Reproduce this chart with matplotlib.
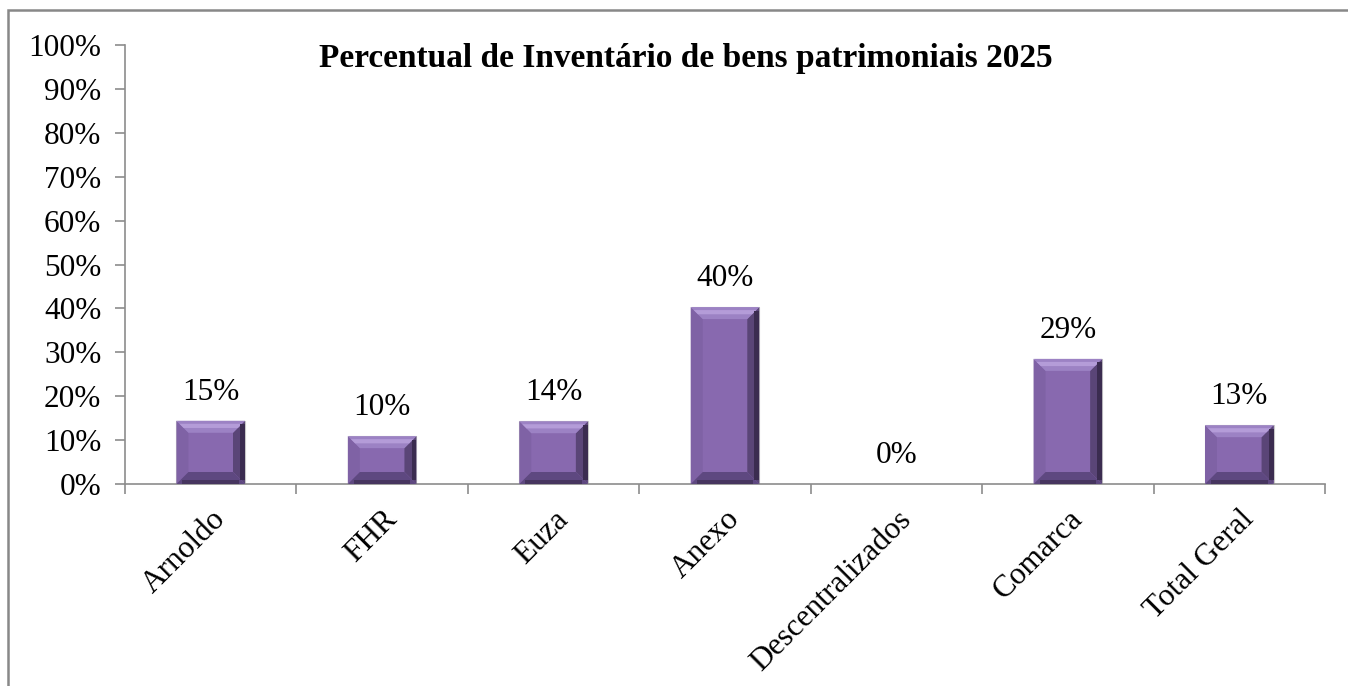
import numpy as np
import matplotlib
matplotlib.use("Agg")
import matplotlib.pyplot as plt
from matplotlib.patches import Polygon, Rectangle

# data
categories = ["Arnoldo", "FHR", "Euza", "Anexo", "Descentralizados", "Comarca", "Total Geral"]
values = [14.4, 10.9, 14.3, 40.3, 0.0, 28.5, 13.4]
value_labels = ["15%", "10%", "14%", "40%", "0%", "29%", "13%"]
yticks = [0, 10, 20, 30, 40, 50, 60, 70, 80, 90, 100]
title = "Percentual de Inventário de bens patrimoniais 2025"

plt.rcParams['font.family'] = ['Liberation Serif', 'DejaVu Serif']

W, H = 1348, 686
fig = plt.figure(figsize=(W / 100, H / 100), dpi=100)
ax = fig.add_axes([125 / W, 1 - 484 / H, 1200 / W, 439 / H])

grey = '#8c8c8c'
fs = 22.5
x = np.arange(len(categories))
bars = ax.bar(x, values, width=0.4, color='#8869AF', edgecolor='#c8c8c8', linewidth=0.8, zorder=2)

ax.set_xlim(-0.5, len(categories) - 0.5)
ax.set_ylim(0, 100)

# bevel look on each bar, ~12 px wide
inv = ax.transData.inverted()
p0 = ax.transData.transform((0, 0))
bx, by = inv.transform(p0 + np.array([12, 12])) - inv.transform(p0)
for rect in bars:
	x0, y0 = rect.get_x(), rect.get_y()
	w, h = rect.get_width(), rect.get_height()
	if h <= 0:
		continue
	b = min(by, h / 2)
	top = [(x0, y0 + h), (x0 + w, y0 + h), (x0 + w - bx, y0 + h - b), (x0 + bx, y0 + h - b)]
	left = [(x0, y0), (x0, y0 + h), (x0 + bx, y0 + h - b), (x0 + bx, y0 + b)]
	right = [(x0 + w, y0), (x0 + w, y0 + h), (x0 + w - bx, y0 + h - b), (x0 + w - bx, y0 + b)]
	bottom = [(x0, y0), (x0 + w, y0), (x0 + w - bx, y0 + b), (x0 + bx, y0 + b)]
	ax.add_patch(Polygon(left, closed=True, color='#7f62a5', lw=0, zorder=3))
	ax.add_patch(Polygon(right, closed=True, color='#5a4577', lw=0, zorder=3))
	ax.add_patch(Polygon(bottom, closed=True, color='#5e4880', lw=0, zorder=3))
	ax.add_patch(Polygon(top, closed=True, color='#9c82c4', lw=0, zorder=3))
	# shading: highlight band in the top bevel, darker edges on the right and bottom
	band = [(x0 + bx * 0.25, y0 + h - b * 0.25), (x0 + w - bx * 0.25, y0 + h - b * 0.25),
		(x0 + w - bx * 0.6, y0 + h - b * 0.6), (x0 + bx * 0.6, y0 + h - b * 0.6)]
	ax.add_patch(Polygon(band, closed=True, color='#b49cd8', lw=0, zorder=3))
	ax.add_patch(Rectangle((x0 + w - bx * 0.4, y0 + b * 0.3), bx * 0.4, h - b * 0.6, color='#3b2c50', lw=0, zorder=3))
	ax.add_patch(Rectangle((x0 + bx * 0.5, y0), w - bx, b * 0.35, color='#46355f', lw=0, zorder=3))

for xi, v, lab in zip(x, values, value_labels):
	ax.annotate(lab, (xi, v), xytext=(0, 10), textcoords='offset points',
		ha='center', va='bottom', fontsize=fs, color='black')

ax.set_yticks(yticks)
ax.set_yticklabels([str(t) + "%" for t in yticks], fontsize=fs)
ax.tick_params(axis='y', direction='out', length=7, width=1.2, color=grey, pad=10)

ax.set_xticks(x)
ax.set_xticklabels(categories, rotation=45, ha='right', rotation_mode='anchor', fontsize=fs)
ax.set_xticks(np.arange(len(categories) + 1) - 0.5, minor=True)
ax.tick_params(axis='x', which='major', length=0, pad=15)
ax.tick_params(axis='x', which='minor', direction='out', length=7, width=1.2, color=grey)

for s in ['top', 'right']:
	ax.spines[s].set_visible(False)
for s in ['left', 'bottom']:
	ax.spines[s].set_color(grey)
	ax.spines[s].set_linewidth(1.2)

fig.text(686 / W, 1 - 58 / H, title, ha='center', va='center', fontsize=24, fontweight='bold')

# outer frame running off the right and bottom edges
fig.patches.append(Rectangle((8 / W, -0.1), 1.2, 1.1 - 10 / H, transform=fig.transFigure,
	fill=False, edgecolor='#888888', linewidth=1.8))

fig.savefig('out.png', dpi=100)
